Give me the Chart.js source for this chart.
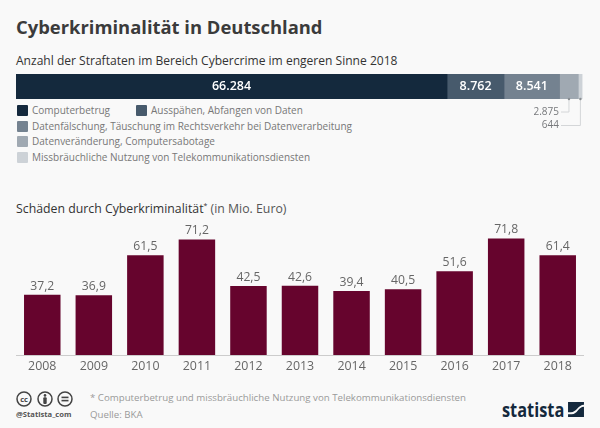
<!DOCTYPE html>
<html>
<head>
<meta charset="utf-8">
<script src="https://cdn.jsdelivr.net/npm/chart.js@4"></script>
<style>
  html, body { margin: 0; padding: 0; background: #f9f9f9; }
  body { width: 600px; height: 428px; position: relative; overflow: hidden; font-family: "Open Sans", sans-serif; }
  .t { position: absolute; white-space: nowrap; }
  canvas { position: absolute; }
  .sw { position: absolute; width: 10.5px; height: 10.5px; border-radius: 1px; }
  .lg { position: absolute; white-space: nowrap; font-size: 10px; line-height: 14px; color: #777; }
  .cc { position: absolute; top: 391px; }
</style>
</head>
<body>
<div class="t" style="left:16px;top:14px;font-size:18.4px;font-weight:700;color:#3b3b3b">Cyberkriminalität in Deutschland</div>
<div class="t" style="left:16px;top:52px;font-size:12.05px;color:#333">Anzahl der Straftaten im Bereich Cybercrime im engeren Sinne 2018</div>
<div id="legend"></div>
<div class="t" style="left:16px;top:200px;font-size:12.3px;color:#333">Schäden durch Cyberkriminalität<sup style="font-size:7px">*</sup> <span style="color:#555">(in Mio. Euro)</span></div>

<canvas id="shareChart" style="left:0;top:60px" width="600" height="75"></canvas>
<canvas id="damageChart" style="left:0;top:215px" width="600" height="163"></canvas>

<svg class="cc" style="left:16px" width="16" height="16" viewBox="0 0 16 16">
  <circle cx="8" cy="8" r="7" fill="none" stroke="#444" stroke-width="1.5"/>
  <text x="8" y="10.6" text-anchor="middle" font-size="7.5" font-weight="700" fill="#444" font-family="Open Sans">cc</text>
</svg>
<svg class="cc" style="left:36.5px" width="16" height="16" viewBox="0 0 16 16">
  <circle cx="8" cy="8" r="7" fill="none" stroke="#444" stroke-width="1.5"/>
  <circle cx="8" cy="4.4" r="1.3" fill="#444"/>
  <rect x="6.3" y="6.2" width="3.4" height="6.8" rx="1" fill="#444"/>
</svg>
<svg class="cc" style="left:57px" width="16" height="16" viewBox="0 0 16 16">
  <circle cx="8" cy="8" r="7" fill="none" stroke="#444" stroke-width="1.5"/>
  <rect x="4.5" y="5.6" width="7" height="1.6" fill="#444"/>
  <rect x="4.5" y="8.8" width="7" height="1.6" fill="#444"/>
</svg>
<div class="t" style="left:16px;top:409px;font-size:7.6px;font-weight:700;color:#555">@Statista_com</div>
<div class="t" style="left:90px;top:390.5px;font-size:9.7px;color:#999">* Computerbetrug und missbräuchliche Nutzung von Telekommunikationsdiensten</div>
<div class="t" style="left:90px;top:407.5px;font-size:9.7px;color:#999">Quelle: BKA</div>
<div class="t" style="left:502px;top:397px;font-size:19px;font-weight:700;color:#14293d;transform:scaleX(.86);transform-origin:left">statista</div>
<svg style="position:absolute;left:568px;top:402px" width="16" height="15" viewBox="0 0 17 16">
  <path fill="#14293d" d="M0 0H17V3C11 3 9 11 3 11H0ZM17 5V16H0V13H4C10 13 11 5 17 5Z"/>
</svg>

<script>
const offenceLabels = ['Computerbetrug', 'Ausspähen, Abfangen von Daten', 'Datenfälschung, Täuschung im Rechtsverkehr bei Datenverarbeitung', 'Datenveränderung, Computersabotage', 'Missbräuchliche Nutzung von Telekommunikationsdiensten']
const offenceValues = [66284, 8762, 8541, 2875, 644]
const offenceColors = ['#14293d', '#475a6c', '#748290', '#a0a9b2', '#cdd2d7']
const offenceText = ['66.284', '8.762', '8.541', '2.875', '644']

const years = ['2008', '2009', '2010', '2011', '2012', '2013', '2014', '2015', '2016', '2017', '2018']
const damages = [37.2, 36.9, 61.5, 71.2, 42.5, 42.6, 39.4, 40.5, 51.6, 71.8, 61.4]
const damageColor = '#66042d'

Chart.defaults.font.family = '"Open Sans", sans-serif'
Chart.defaults.animation = false
Chart.defaults.responsive = false

// legend is plain html, rows as in the original
const legendSpots = [[17, 105], [136, 105], [17, 121], [17, 136], [17, 152]]
const legend = document.getElementById('legend')
offenceLabels.forEach((label, i) => {
  const [x, y] = legendSpots[i]
  legend.insertAdjacentHTML('beforeend',
    `<div class="sw" style="left:${x}px;top:${y}px;background:${offenceColors[i]}"></div>` +
    `<div class="lg" style="left:${x + 15}px;top:${y - 2}px">${label}</div>`)
})

const shareLabels = {
  id: 'shareLabels',
  afterDatasetsDraw(chart) {
    const { ctx, chartArea, scales: { x } } = chart
    const bottom = chartArea.bottom
    const centre = (chartArea.top + chartArea.bottom) / 2
    let sum = 0
    offenceValues.forEach((v, i) => {
      const mid = x.getPixelForValue(sum + v / 2)
      sum += v
      ctx.save()
      if (i < 3) {
        ctx.font = '600 12.5px "Open Sans"'
        ctx.fillStyle = '#fff'
        ctx.textAlign = 'center'
        ctx.textBaseline = 'middle'
        ctx.fillText(offenceText[i], mid, centre)
      } else {
        // leader line from the thin segments down to their number
        const rowY = bottom + (i === 3 ? 13 : 26.5)
        ctx.strokeStyle = '#d4d6d8'
        ctx.lineWidth = 1
        ctx.beginPath()
        ctx.moveTo(mid, bottom)
        ctx.lineTo(mid, rowY)
        ctx.lineTo(561, rowY)
        ctx.stroke()
        ctx.fillStyle = '#8a8f94'
        ctx.beginPath()
        ctx.arc(mid, bottom, 1.2, 0, Math.PI * 2)
        ctx.fill()
        ctx.font = '10px "Open Sans"'
        ctx.fillStyle = '#77797c'
        ctx.textAlign = 'right'
        ctx.textBaseline = 'middle'
        ctx.fillText(offenceText[i], 559, rowY)
      }
      ctx.restore()
    })
  }
}

new Chart(document.getElementById('shareChart'), {
  type: 'bar',
  data: {
    labels: ['2018'],
    datasets: offenceValues.map((v, i) => ({
      label: offenceLabels[i],
      data: [v],
      backgroundColor: offenceColors[i],
      barPercentage: 1,
      categoryPercentage: 1
    }))
  },
  options: {
    indexAxis: 'y',
    layout: { padding: { left: 16, right: 17.5, top: 14, bottom: 36 } },
    plugins: { legend: { display: false }, tooltip: { enabled: false } },
    scales: {
      x: { display: false, stacked: true, min: 0, max: 87106 },
      y: { display: false, stacked: true }
    }
  },
  plugins: [shareLabels]
})

const valueLabels = {
  id: 'valueLabels',
  afterDatasetsDraw(chart) {
    const { ctx } = chart
    const bars = chart.getDatasetMeta(0).data
    ctx.save()
    ctx.font = '12.2px "Open Sans"'
    ctx.fillStyle = '#666'
    ctx.textAlign = 'center'
    ctx.textBaseline = 'alphabetic'
    bars.forEach((bar, i) => {
      ctx.fillText(damages[i].toFixed(1).replace('.', ','), bar.x, bar.y - 5)
    })
    ctx.restore()
  }
}

new Chart(document.getElementById('damageChart'), {
  type: 'bar',
  data: {
    labels: years,
    datasets: [{ data: damages, backgroundColor: damageColor, barPercentage: 1, categoryPercentage: 0.708 }]
  },
  options: {
    layout: { padding: { left: 16.5, right: 16.5, top: 0, bottom: 0 } },
    plugins: { legend: { display: false }, tooltip: { enabled: false } },
    scales: {
      x: {
        grid: { display: false, drawTicks: false },
        border: { color: '#ccc' },
        ticks: { color: '#666', font: { size: 12.4 }, padding: 4, maxRotation: 0, autoSkip: false }
      },
      y: { display: false, min: 0, max: 86.2 }
    }
  },
  plugins: [valueLabels]
})
</script>
</body>
</html>
